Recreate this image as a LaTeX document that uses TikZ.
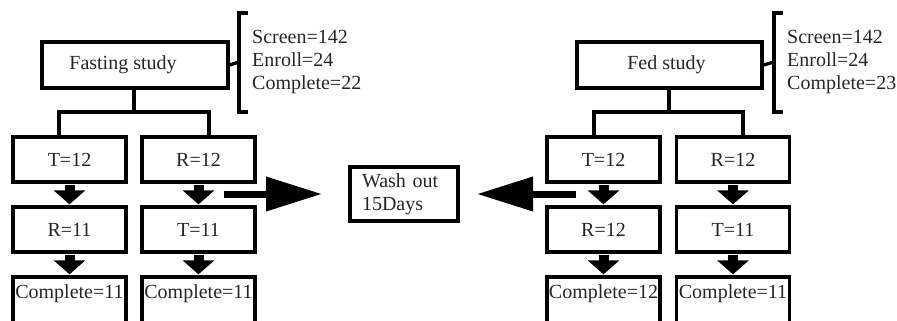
\documentclass[tikz,border=0pt]{standalone}
\usepackage{fontspec}
\setmainfont{Liberation Serif}
\usetikzlibrary{arrows.meta,calc}
\begin{document}
\begin{tikzpicture}[x=1pt,y=-1pt,
  box/.style={draw=black,line width=3.3pt,inner sep=0pt,align=center,
    font=\fontsize{20}{23}\selectfont,text=black!85},
  lbl/.style={inner sep=0pt,align=left,font=\fontsize{20}{23}\selectfont,text=black!85},
  line/.style={line width=3.3pt},
  down/.style={line width=10pt,-{Triangle[length=14pt,width=31pt]}},
  side/.style={line width=7pt,-{Triangle[length=56pt,width=33pt]}}]
\useasboundingbox (0,0) rectangle (897,321);
\clip (0,0) rectangle (897,321);
% left study
\node[box,minimum width=186pt,minimum height=46pt] (fast) at (135,65) {Fasting study\hspace*{24pt}};
\node[box,minimum width=113pt,minimum height=45pt] (a1) at (69.5,159.5) {T=12};
\node[box,minimum width=113pt,minimum height=45pt] (b1) at (198.5,159.5) {R=12};
\node[box,minimum width=113pt,minimum height=45pt] (a2) at (69.5,229.5) {R=11};
\node[box,minimum width=113pt,minimum height=45pt] (b2) at (198.5,229.5) {T=11};
\node[box,minimum width=113pt,minimum height=56pt] (a3) at (69.5,305) {Complete=11\\[4pt]};
\node[box,minimum width=113pt,minimum height=56pt] (b3) at (198.5,305) {Complete=11\\[4pt]};
% right study
\node[box,minimum width=185pt,minimum height=46pt] (fed) at (669.5,65) {Fed study\hspace*{6pt}};
\node[box,minimum width=113pt,minimum height=45pt] (c1) at (603.5,159.5) {T=12};
\node[box,minimum width=113pt,minimum height=45pt] (d1) at (733,159.5) {R=12};
\node[box,minimum width=113pt,minimum height=45pt] (c2) at (603.5,229.5) {R=12};
\node[box,minimum width=113pt,minimum height=45pt] (d2) at (733,229.5) {T=11};
\node[box,minimum width=113pt,minimum height=56pt] (c3) at (603.5,305) {Complete=12\\[4pt]};
\node[box,minimum width=113pt,minimum height=56pt] (d3) at (733,305) {Complete=11\\[4pt]};
% wash out
\node[box,minimum width=108pt,minimum height=54pt,align=left,text width=84pt,inner xsep=12pt] (wash) at (404,194) {Wash out\\15Days};
% counts
\node[lbl,anchor=west] (cntL) at (252,62) {Screen=142\\Enroll=24\\Complete=22};
\node[lbl,anchor=west] (cntR) at (787,62) {Screen=142\\Enroll=24\\Complete=23};
% brackets
\draw[line] (248,13) -- (239,13) -- (239,112) -- (248,112);
\draw[line] (fast.east) -- (239,62);
\draw[line] (783,13) -- (774,13) -- (774,112) -- (783,112);
\draw[line] (fed.east) -- (774,62);
% tree connectors
\coordinate (jL) at (134,112);
\coordinate (jR) at (669,112);
\draw[line] (fast.south -| jL) -- (jL);
\draw[line] ($(a1.north)+(-10.5,0)$) |- (jL) -| ($(b1.north)+(10.5,0)$);
\draw[line] (fed.south -| jR) -- (jR);
\draw[line] ($(c1.north)+(-9.5,0)$) |- (jR) -| ($(d1.north)+(10,0)$);
% down arrows
\foreach \u/\v in {a1/a2,a2/a3,b1/b2,b2/b3,c1/c2,c2/c3,d1/d2,d2/d3}{
  \draw[down] ([yshift=-1.5pt]\u.south) -- ([yshift=1pt]\v.north);
}
% wash out arrows
\coordinate (wl0) at (224,194);
\coordinate (wl1) at (322,194);
\coordinate (wr0) at (576,194);
\coordinate (wr1) at (477,194);
\draw[side] (wl0) -- (wl1);
\draw[side] (wr0) -- (wr1);
\end{tikzpicture}
\end{document}
